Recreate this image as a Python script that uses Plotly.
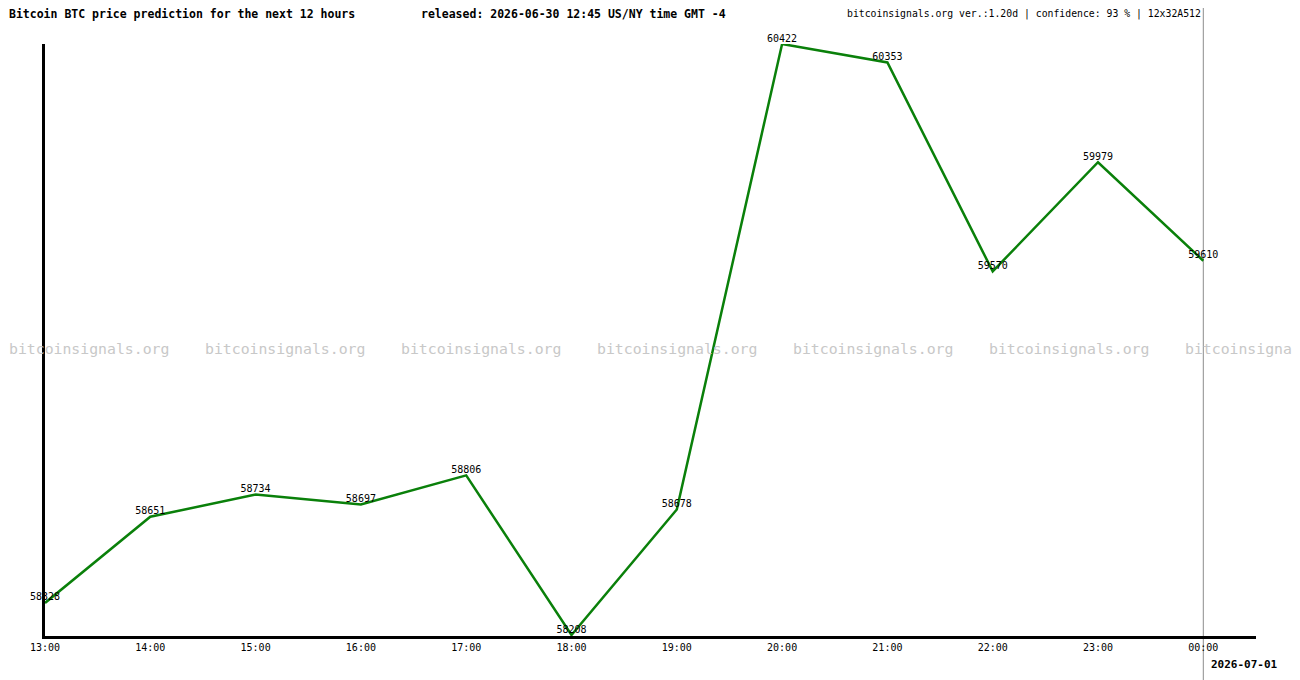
import plotly.graph_objects as go

hours = ["13:00", "14:00", "15:00", "16:00", "17:00", "18:00",
         "19:00", "20:00", "21:00", "22:00", "23:00", "00:00"]
prices = [58328, 58651, 58734, 58697, 58806, 58208,
          58678, 60422, 60353, 59570, 59979, 59610]
title_left = "Bitcoin BTC price prediction for the next 12 hours"
title_mid = "released: 2026-06-30 12:45 US/NY time GMT -4"
title_right = "bitcoinsignals.org ver.:1.20d | confidence: 93 % | 12x32A512"
date_label = "2026-07-01"
watermarks = ["bitcoinsignals.org"] * 6 + ["bitcoinsignal"]

OFF = 8  # page body margin
W, H = 1300 - OFF, 680 - OFF
ML, MR, MT, MB = 45 - OFF, 44, 44 - OFF, 44
plot_w = W - ML - MR
plot_h = H - MT - MB
idx = list(range(len(hours)))
px_per_step = 105.3
x_max = plot_w / px_per_step
ymin, ymax = min(prices), max(prices)
y_lo = ymin - (ymax - ymin) / 591.0

mono = "DejaVu Sans Mono"


def pos(px, py):
    # screen pixel -> plot-area paper coordinates
    fx, fy = px - OFF, py - OFF
    return (fx - ML) / plot_w, 1 - (fy - MT) / plot_h


fig = go.Figure()
fig.add_trace(go.Scatter(
    x=idx, y=prices, mode="lines+text",
    line=dict(color="#0a800a", width=2.5),
    text=[str(p) for p in prices], textposition="top center",
    textfont=dict(family=mono, size=10, color="black"),
    cliponaxis=False, hoverinfo="skip", showlegend=False,
))

annotations = []


def add(text, px, py, anchor, size, color="black"):
    x, y = pos(px, py)
    annotations.append(dict(text=text, x=x, y=y, xref="paper", yref="paper",
                            xanchor=anchor, yanchor="middle", showarrow=False,
                            font=dict(family=mono, size=size, color=color)))


add("<b>" + title_left + "</b>", 7, 14, "left", 11.5)
add("<b>" + title_mid + "</b>", 419, 14, "left", 11.5)
add(title_right, 1203, 14, "right", 9.8)
add("<b>" + date_label + "</b>", 1280, 664, "right", 11)
for k, wm in enumerate(watermarks):
    add(wm, 7 + 196 * k, 348, "left", 14.8, "#c8c8c8")

fig.update_layout(
    width=W, height=H,
    margin=dict(l=ML, r=MR, t=MT, b=MB, pad=0),
    paper_bgcolor="white", plot_bgcolor="white",
    annotations=annotations,
    shapes=[dict(type="line", xref="x", yref="paper",
                 x0=idx[-1], x1=idx[-1], y0=-MB / plot_h, y1=1 + (MT + OFF) / plot_h,
                 line=dict(color="#8c8c8c", width=1), layer="below")],
    xaxis=dict(range=[0, x_max], showgrid=False, zeroline=False,
               showline=True, linecolor="black", linewidth=3,
               tickmode="array", tickvals=idx, ticktext=hours, ticks="",
               tickfont=dict(family=mono, size=10, color="black"),
               fixedrange=True),
    yaxis=dict(range=[y_lo, ymax], showgrid=False, zeroline=False,
               showline=True, linecolor="black", linewidth=3,
               showticklabels=False, ticks="", fixedrange=True),
    showlegend=False,
)

fig.write_html("out.html", config={"displayModeBar": False})
